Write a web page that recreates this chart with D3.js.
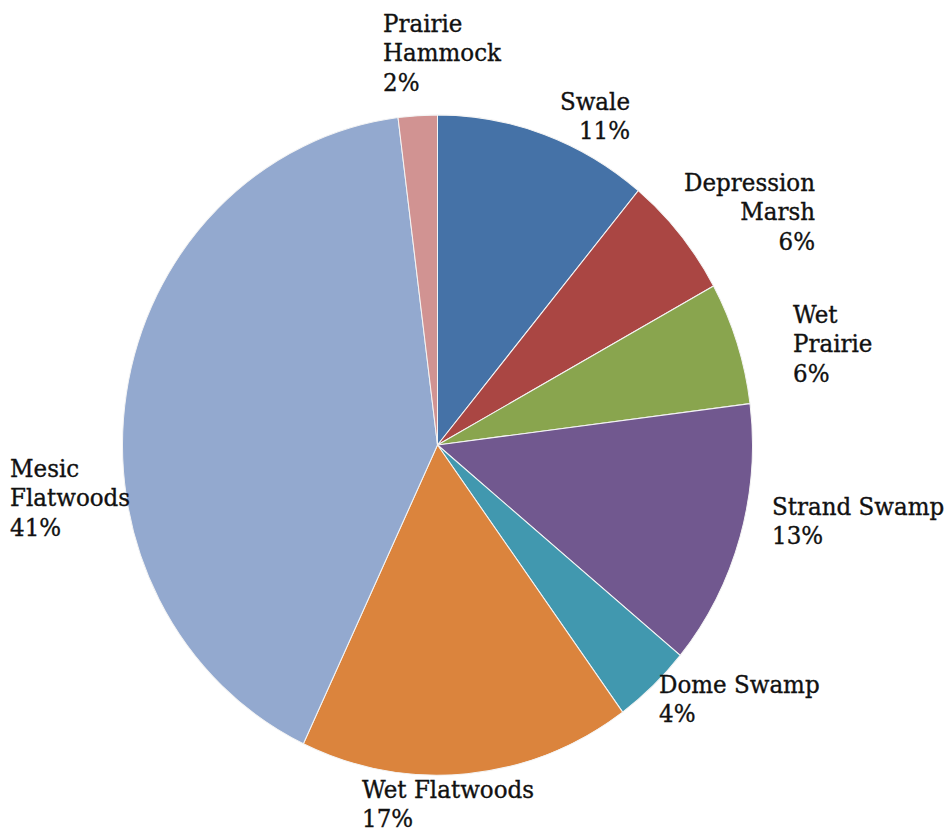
<!DOCTYPE html>
<html>
<head>
<meta charset="utf-8">
<script src="https://cdn.jsdelivr.net/npm/d3@7"></script>
<style>
  html, body { margin: 0; padding: 0; background: #ffffff; }
  svg { display: block; }
  text { font-family: "DejaVu Serif", "Liberation Serif", serif; fill: #111; stroke: #111; stroke-width: 0.35px; }
</style>
</head>
<body>
<svg id="chart" width="946" height="830"></svg>
<script>
// Habitat share of the study area (percent), clockwise from 12 o'clock
const categories = ["Swale", "Depression Marsh", "Wet Prairie", "Strand Swamp",
                    "Dome Swamp", "Wet Flatwoods", "Mesic Flatwoods", "Prairie Hammock"];
const values = [11, 6, 6, 13, 4, 17, 41, 2];
const colors = ["#4572A7", "#AA4643", "#89A54E", "#71588F",
                "#4198AF", "#DB843D", "#93A9CF", "#D19392"];

// Label text lines per category (value line appended from the data)
const labelLines = [["Swale"], ["Depression", "Marsh"], ["Wet", "Prairie"], ["Strand Swamp"],
                    ["Dome Swamp"], ["Wet Flatwoods"], ["Mesic", "Flatwoods"], ["Prairie", "Hammock"]];

// Label placement: anchor x, first baseline y, alignment
const labelLayout = [
  { x: 630, y: 110, anchor: "end" },
  { x: 815, y: 191, anchor: "end" },
  { x: 793, y: 323, anchor: "start" },
  { x: 772, y: 515, anchor: "start" },
  { x: 659, y: 693, anchor: "start" },
  { x: 362, y: 798, anchor: "start" },
  { x: 10,  y: 477, anchor: "start" },
  { x: 383, y: 32,  anchor: "start" }
];

const svg = d3.select("#chart");
const cx = 437.5, cy = 445, radius = 315, yStretch = 1.048;
const lineHeight = 29.5;

const pie = d3.pie().sort(null).value(d => d)(values);
const arc = d3.arc().innerRadius(0).outerRadius(radius);

const pieG = svg.append("g")
  .attr("transform", `translate(${cx},${cy}) scale(1,${yStretch})`);

pieG.selectAll("path")
  .data(pie)
  .join("path")
  .attr("d", arc)
  .attr("fill", (d, i) => colors[i])
  .attr("stroke", "#f4f4f4")
  .attr("stroke-width", 1);

const labels = svg.append("g").selectAll("text")
  .data(categories)
  .join("text")
  .attr("font-size", 23)
  .attr("text-anchor", (d, i) => labelLayout[i].anchor)
  .attr("transform", (d, i) => `translate(${labelLayout[i].x},${labelLayout[i].y}) scale(1,${yStretch})`);

labels.each(function (d, i) {
  const lines = labelLines[i].concat([values[i] + "%"]);
  d3.select(this).selectAll("tspan")
    .data(lines)
    .join("tspan")
    .attr("x", 0)
    .attr("y", (l, j) => j * lineHeight / yStretch)
    .text(l => l);
});
</script>
</body>
</html>
